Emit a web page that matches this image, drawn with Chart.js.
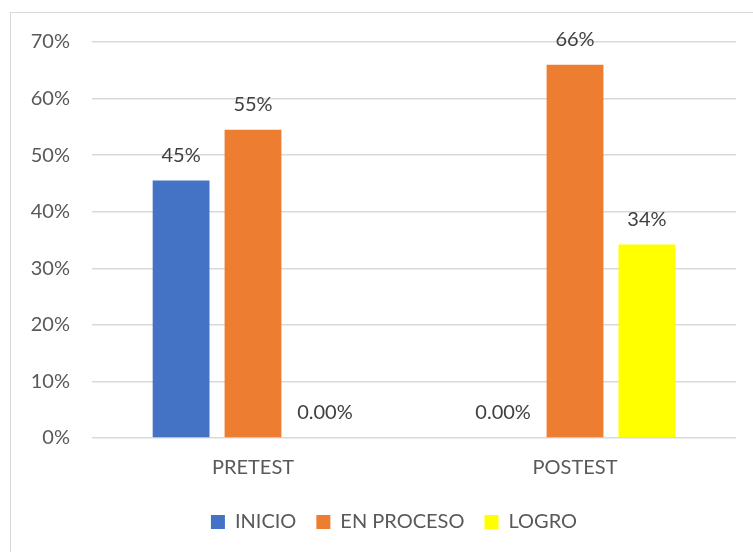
<!DOCTYPE html>
<html>
<head>
<meta charset="utf-8">
<script src="https://cdn.jsdelivr.net/npm/chart.js@4.4.0/dist/chart.umd.min.js"></script>
<style>
  html, body { margin: 0; padding: 0; background: #fff; }
  #wrap { width: 753px; height: 552px; }
</style>
</head>
<body>
<div id="wrap"><canvas id="myChart" width="753" height="552"></canvas></div>
<script>
// chart data
const categories = ['PRETEST', 'POSTEST'];
const seriesNames = ['INICIO', 'EN PROCESO', 'LOGRO'];
const inicio = [45.5, 0];
const enProceso = [54.5, 66];
const logro = [0, 34.2];
// labels shown on top of each bar
const inicioLabels = ['45%', '0.00%'];
const enProcesoLabels = ['55%', '66%'];
const logroLabels = ['0.00%', '34%'];
const yTicks = [0, 10, 20, 30, 40, 50, 60, 70];

const FONT = 'Lato, "Liberation Sans", sans-serif';

// white background and light frame around the chart
const framePlugin = {
    id: 'frame',
    beforeDraw(chart) {
        const ctx = chart.ctx;
        ctx.save();
        ctx.fillStyle = '#fff';
        ctx.fillRect(0, 0, chart.width, chart.height);
        ctx.strokeStyle = '#d9d9d9';
        ctx.lineWidth = 1;
        ctx.strokeRect(10.5, 12.5, 800, 600);
        ctx.restore();
    }
};

// the legend sits a bit right of the canvas centre
const legendShift = {
    id: 'legendShift',
    afterLayout(chart) {
        chart.legend.left += 26;
        chart.legend.right += 26;
    }
};

// value labels above the bars
const valueLabels = {
    id: 'valueLabels',
    afterDatasetsDraw(chart) {
        const ctx = chart.ctx;
        ctx.save();
        ctx.font = '20px ' + FONT;
        ctx.fillStyle = '#404040';
        ctx.textAlign = 'center';
        ctx.textBaseline = 'middle';
        chart.data.datasets.forEach((ds, i) => {
            chart.getDatasetMeta(i).data.forEach((bar, j) => {
                ctx.fillText(ds.valueLabels[j], bar.x, bar.y - 25);
            });
        });
        ctx.restore();
    }
};

const ctx = document.getElementById('myChart').getContext('2d');
new Chart(ctx, {
    type: 'bar',
    data: {
        labels: categories,
        datasets: [
            { label: seriesNames[0], data: inicio, valueLabels: inicioLabels, backgroundColor: '#4472C4' },
            { label: seriesNames[1], data: enProceso, valueLabels: enProcesoLabels, backgroundColor: '#ED7D31' },
            { label: seriesNames[2], data: logro, valueLabels: logroLabels, backgroundColor: '#FFFF00' }
        ]
    },
    options: {
        responsive: false,
        animation: false,
        datasets: {
            bar: { barPercentage: 0.79, categoryPercentage: 0.67 }
        },
        layout: { padding: { top: 42, right: 17, bottom: 10, left: 0 } },
        scales: {
            x: {
                grid: { display: false },
                border: { display: false },
                ticks: { color: '#595959', font: { family: FONT, size: 20 }, padding: 10 },
                afterFit: scale => { scale.height = 54; }
            },
            y: {
                min: 0,
                max: 70,
                afterBuildTicks: scale => { scale.ticks = yTicks.map(v => ({ value: v })); },
                grid: { color: '#d9d9d9', lineWidth: 1.5, drawTicks: false },
                border: { display: false },
                ticks: {
                    color: '#595959',
                    font: { family: FONT, size: 20 },
                    padding: 22,
                    callback: v => v + '%'
                },
                afterFit: scale => { scale.width = 92; }
            }
        },
        plugins: {
            legend: {
                position: 'bottom',
                labels: {
                    color: '#595959',
                    font: { family: FONT, size: 20 },
                    boxWidth: 14,
                    boxHeight: 14,
                    padding: 20
                }
            },
            tooltip: { enabled: false }
        }
    },
    plugins: [framePlugin, legendShift, valueLabels]
});
</script>
</body>
</html>
